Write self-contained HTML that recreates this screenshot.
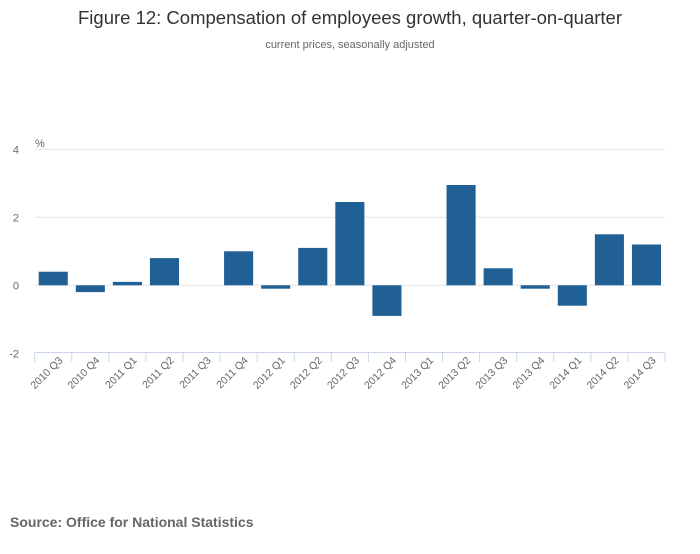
<!DOCTYPE html>
<html><head><meta charset="utf-8"><style>
body{margin:0;background:#fff;font-family:"Liberation Sans",sans-serif;}
svg text{font-family:"Liberation Sans",sans-serif;}
</style></head><body>
<svg id="chart" width="700" height="549">
<text x="350" y="24" text-anchor="middle" font-size="18.5" fill="#333">Figure 12: Compensation of employees growth, quarter-on-quarter</text>
<text x="350" y="48" text-anchor="middle" font-size="11" fill="#666">current prices, seasonally adjusted</text>
<text x="35" y="147" font-size="11" fill="#666">%</text>
<text x="10" y="527" font-size="14" font-weight="bold" fill="#666">Source: Office for National Statistics</text>
<g id="grid"></g><g id="bars"></g><g id="xaxis"></g>
</svg>
<script>
const categories=["2010 Q3","2010 Q4","2011 Q1","2011 Q2","2011 Q3","2011 Q4","2012 Q1","2012 Q2","2012 Q3","2012 Q4","2013 Q1","2013 Q2","2013 Q3","2013 Q4","2014 Q1","2014 Q2","2014 Q3"];
const values=[0.4,-0.2,0.1,0.8,0,1.0,-0.1,1.1,2.45,-0.9,0,2.95,0.5,-0.1,-0.6,1.5,1.2];
const yTicks=[-2,0,2,4];
const NS="http://www.w3.org/2000/svg";
const L=34.7,R=665,Y0=285.3,PPU=34;
const bw=(R-L)/categories.length;
const y=v=>Y0-v*PPU;
const x=i=>L+i*bw;
function mk(t,a,p){const e=document.createElementNS(NS,t);for(const k in a)e.setAttribute(k,a[k]);p.appendChild(e);return e;}
const grid=document.getElementById('grid'),bars=document.getElementById('bars'),xa=document.getElementById('xaxis');
yTicks.forEach(t=>{
  if(t!==-2){const g=mk('line',{x1:L,x2:R,y1:y(t),y2:y(t),stroke:'#e3e3e3','stroke-width':1},grid);
  
  }
  const tx=mk('text',{x:19,y:y(t)+4,'text-anchor':'end','font-size':11,fill:'#666'},grid);tx.textContent=t;
  
  
});
const ax=mk('line',{x1:L,x2:R,y1:352.5,y2:352.5,stroke:'#ccd6eb','stroke-width':1},xa);


for(let i=0;i<=categories.length;i++){const t=mk('line',{x1:x(i),x2:x(i),y1:352.5,y2:362,stroke:'#ccd6eb'},xa);

}
categories.forEach((c,i)=>{
  const v=values[i];
  const r=mk('rect',{x:x(i)+4,width:bw-8,y:Math.min(y(v),Y0),height:Math.abs(y(v)-Y0),fill:'#206095'},bars);
  
  
  const cx=x(i)+bw/2+10,cy=361;
  const t=mk('text',{x:cx,y:cy,'text-anchor':'end','font-size':10.5,fill:'#666',transform:`rotate(-45 ${cx} ${cy})`},xa);
  t.textContent=c;
  
  
});
</script>
</body></html>
